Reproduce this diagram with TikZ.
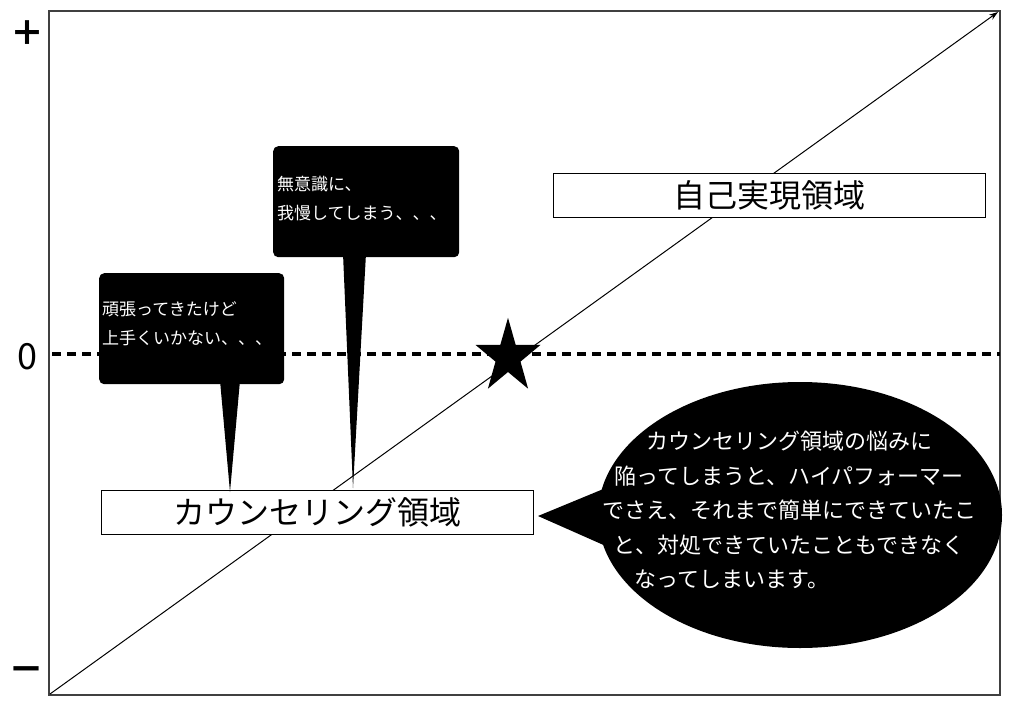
\documentclass[tikz,border=0pt]{standalone}
\usepackage{fontspec}
\setmainfont{Noto Sans CJK JP}
\usetikzlibrary{arrows.meta,shapes.geometric}
\begin{document}
\begin{tikzpicture}[x=1pt,y=-1pt, every node/.style={inner sep=0pt}]
\tikzset{
 frame/.style={draw=black!75, line width=1.2pt},
 diag/.style={line width=1pt, -{Stealth[length=9pt,width=6pt]}},
 zeroline/.style={line width=3.4pt, dash pattern=on 9pt off 6pt},
 areabox/.style={draw=black, line width=0.8pt, fill=white, minimum width=432pt, minimum height=44pt, font=\fontsize{32}{36}\selectfont},
 callout/.style={fill=black, rounded corners=5pt},
 calltext/.style={text=white, align=left, font=\fontsize{17}{29}\selectfont, anchor=west},
 bubbletext/.style={text=white, align=center, font=\fontsize{22}{34.5}\selectfont},
 axislabel/.style={font=\fontsize{36}{36}\selectfont}
}
\useasboundingbox (0,0) rectangle (1012,707);
% frame
\draw[frame] (49,11) rectangle (1000,695);
% diagonal axis
\coordinate (origin) at (50,694);
\coordinate (topright) at (998,12);
\draw[diag] (origin) -- (topright);
% zero line
\coordinate (zl) at (52,354);
\coordinate (zr) at (1000,354);
\draw[zeroline] (zl) -- (zr);
% axis labels
\node[axislabel, font=\fontsize{34}{34}\bfseries] (plus) at (27,33) {＋};
\node[axislabel] (zero) at (27.5,357) {0};
\node[axislabel, font=\fontsize{36}{36}\bfseries] (minus) at (27,675) {－};
% area boxes
\node[areabox] (selfreal) at (769,195.5) {自己実現領域};
\node[areabox] (counsel) at (317,512.5) {カウンセリング領域};
% star
\fill (508,317.8) -- (500.3,344.9) -- (475.5,344.9) -- (495.5,361.6) -- (487.9,388.7)
  -- (508,372) -- (528.1,388.7) -- (520.5,361.6) -- (540.5,344.9) -- (515.7,344.9) -- cycle;
% callout 1
\node[callout, minimum width=185pt, minimum height=111pt, anchor=north west] (c1) at (99,273) {};
\coordinate (t1) at (230,492);
\fill ([xshift=121pt,yshift=4pt]c1.south west) -- (t1) -- ([xshift=141pt,yshift=4pt]c1.south west) -- cycle;
\node[calltext] (c1text) at (102,324) {頑張ってきたけど\\上手くいかない、、、};
% callout 2
\node[callout, minimum width=186pt, minimum height=111pt, anchor=north west] (c2) at (273,146) {};
\coordinate (t2) at (353,488);
\fill ([xshift=70pt,yshift=4pt]c2.south west) -- (t2) -- ([xshift=93pt,yshift=4pt]c2.south west) -- cycle;
\node[calltext] (c2text) at (277,199) {無意識に、\\我慢してしまう、、、};
% speech bubble
\node[ellipse, fill=black, minimum width=404pt, minimum height=266pt] (bubble) at (800,515) {};
\coordinate (btip) at (538,516);
\fill (btip) -- ([xshift=8pt,yshift=27pt]bubble.west) -- ([xshift=8pt,yshift=-31pt]bubble.west) -- cycle;
\node[bubbletext] (btext) at (789,510) {カウンセリング領域の悩みに\\陥ってしまうと、ハイパフォーマー\\でさえ、それまで簡単にできていたこ\\と、対処できていたこともできなく\\なってしまいます。\hspace*{114pt}};
\end{tikzpicture}
\end{document}
